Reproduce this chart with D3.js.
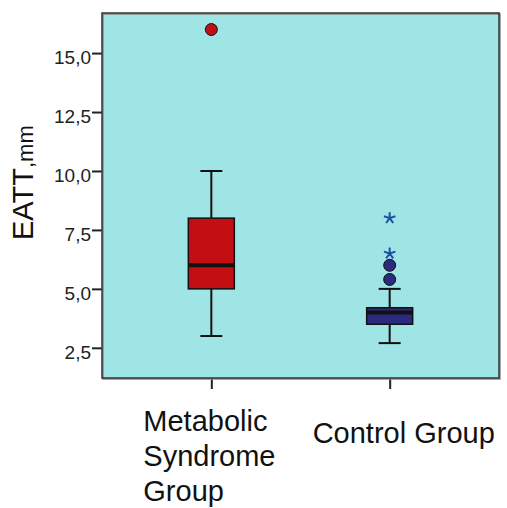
<!DOCTYPE html>
<html><head><meta charset="utf-8">
<script src="https://cdn.jsdelivr.net/npm/d3@7"></script>
<style>html,body{margin:0;padding:0;background:#fff}svg{display:block}</style>
</head><body>
<svg id="c" width="507" height="508"></svg>
<script>
// ---- data ----
const categories = ["Metabolic Syndrome Group", "Control Group"];
const categoryLabelLines = [["Metabolic", "Syndrome", "Group"], ["Control Group"]];
const whiskerLow = [3.0, 2.7];
const q1 = [5.0, 3.5];
const median = [6.0, 4.0];
const q3 = [8.0, 4.2];
const whiskerHigh = [10.0, 5.0];
const outlierCircles = [[16.0], [5.4, 6.0]];
const extremeStars = [[], [6.5, 8.0]];
const yTicks = [2.5, 5.0, 7.5, 10.0, 12.5, 15.0];
const yLabelMain = "EATT";
const yLabelUnit = ",mm";
const boxColors = ["#c30f14", "#2a2a7e"];
const pointColors = ["#c30f14", "#2a2a80"];
const starColor = "#1f4f9e";

// ---- layout ----
const L = 102, R = 499, T = 13, B = 378;
const svg = d3.select("#c");
const x = d3.scalePoint().domain(categories).range([L, R]).padding(0.613);
const y = d3.scaleLinear().domain([1.22, 16.7]).range([B, T]);

svg.append("rect").attr("x", L).attr("y", T).attr("width", R - L).attr("height", B - T)
  .attr("fill", "#9fe5e6");

const fmt = d => d.toFixed(1).replace(".", ",");
const yAxis = d3.axisLeft(y).tickValues(yTicks).tickFormat(fmt).tickSize(10).tickPadding(1);
const ya = svg.append("g").attr("transform", `translate(${L},0)`).call(yAxis);
ya.select(".domain").remove();
ya.selectAll(".tick line").attr("stroke", "#222").attr("stroke-width", 2);
ya.selectAll(".tick text").attr("font-family", "Liberation Sans, Arial, sans-serif")
  .attr("font-size", 19).attr("fill", "#222").attr("dy", "0.55em");

const xAxis = d3.axisBottom(x).tickSize(11).tickFormat("");
const xa = svg.append("g").attr("transform", `translate(0,${B})`).call(xAxis);
xa.select(".domain").remove();
xa.selectAll(".tick line").attr("stroke", "#222").attr("stroke-width", 2);

// boxes
const bw = 46, cw = 22;
categories.forEach((c, i) => {
  const cx = x(c);
  const g = svg.append("g");
  g.append("line").attr("x1", cx).attr("x2", cx).attr("y1", y(whiskerHigh[i])).attr("y2", y(q3[i]))
    .attr("stroke", "#111").attr("stroke-width", 2);
  g.append("line").attr("x1", cx).attr("x2", cx).attr("y1", y(q1[i])).attr("y2", y(whiskerLow[i]))
    .attr("stroke", "#111").attr("stroke-width", 2);
  [whiskerHigh[i], whiskerLow[i]].forEach(v => {
    g.append("line").attr("x1", cx - cw / 2).attr("x2", cx + cw / 2).attr("y1", y(v)).attr("y2", y(v))
      .attr("stroke", "#111").attr("stroke-width", 2);
  });
  g.append("rect").attr("x", cx - bw / 2).attr("y", y(q3[i])).attr("width", bw)
    .attr("height", y(q1[i]) - y(q3[i])).attr("fill", boxColors[i]).attr("stroke", "#111").attr("stroke-width", 1.5);
  g.append("line").attr("x1", cx - bw / 2).attr("x2", cx + bw / 2).attr("y1", y(median[i])).attr("y2", y(median[i]))
    .attr("stroke", "#111").attr("stroke-width", 4);
  outlierCircles[i].forEach(v => {
    g.append("circle").attr("cx", cx).attr("cy", y(v)).attr("r", 6)
      .attr("fill", pointColors[i]).attr("stroke", "#111").attr("stroke-width", 1);
  });
  const star = {draw(ctx, size) {
    const r = Math.sqrt(size);
    for (let k = 0; k < 5; k++) {
      const a = -Math.PI / 2 + k * 2 * Math.PI / 5;
      ctx.moveTo(0, 0); ctx.lineTo(r * Math.cos(a), r * Math.sin(a));
    }
  }};
  extremeStars[i].forEach(v => {
    g.append("path").attr("d", d3.symbol().type(star).size(36)())
      .attr("transform", `translate(${cx},${y(v)})`)
      .attr("stroke", starColor).attr("stroke-width", 2).attr("fill", "none");
  });
});

// plot border
svg.append("rect").attr("x", L + 1).attr("y", T + 1).attr("width", R - L).attr("height", B - T)
  .attr("fill", "none").attr("stroke", "#888").attr("stroke-width", 1.5);
svg.append("rect").attr("x", L).attr("y", T).attr("width", R - L).attr("height", B - T)
  .attr("fill", "none").attr("stroke", "#333").attr("stroke-width", 1.5);

// category labels
const labelLeftOffsets = [-68, -77];
categoryLabelLines.forEach((lines, i) => {
  const t = svg.append("text").attr("font-family", "Liberation Sans, Arial, sans-serif")
    .attr("font-size", 29).attr("fill", "#111");
  lines.forEach((ln, j) => {
    t.append("tspan").attr("x", x(categories[i]) + labelLeftOffsets[i])
      .attr("y", (lines.length > 1 ? 431 : 443) + j * 35).text(ln);
  });
});

// y label
const yl = svg.append("text").attr("transform", "translate(33,240) rotate(-90)")
  .attr("font-family", "Liberation Sans, Arial, sans-serif").attr("fill", "#111");
yl.append("tspan").attr("font-size", 29).text(yLabelMain);
yl.append("tspan").attr("font-size", 22).text(yLabelUnit);
</script>
</body></html>
